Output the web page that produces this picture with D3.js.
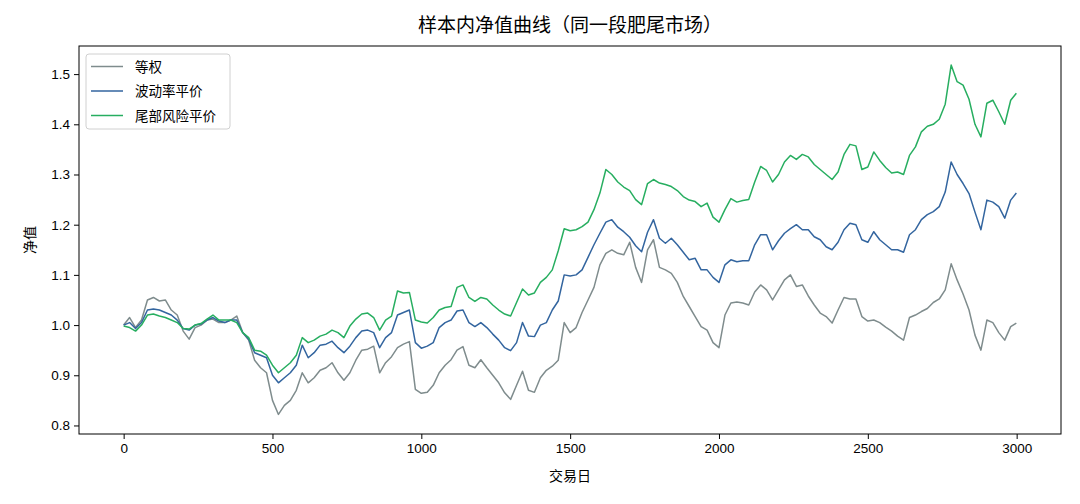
<!DOCTYPE html>
<html>
<head>
<meta charset="utf-8">
<script src="https://cdn.jsdelivr.net/npm/d3@7"></script>
<style>
  body { margin: 0; background: #fff; }
  text { font-family: "Liberation Sans", "Noto Sans CJK SC", sans-serif; }
</style>
</head>
<body>
<div id="chart"></div>
<script>
// sampled every 20 trading days, last point = day 2999
const days = d3.range(0, 3000, 20).concat([2999]);

const equalWeight = [
  1.000, 1.015, 0.995, 1.010, 1.050, 1.055, 1.048, 1.050, 1.030, 1.020,
  0.988, 0.972, 0.995, 1.000, 1.010, 1.012, 1.005, 1.005, 1.010, 1.018,
  0.985, 0.970, 0.930, 0.915, 0.905, 0.850, 0.822, 0.840, 0.850, 0.870,
  0.905, 0.885, 0.895, 0.910, 0.915, 0.925, 0.905, 0.890, 0.905, 0.930,
  0.950, 0.952, 0.958, 0.905, 0.925, 0.937, 0.955, 0.962, 0.967, 0.872,
  0.864, 0.866, 0.880, 0.905, 0.920, 0.931, 0.950, 0.957, 0.920, 0.915,
  0.931, 0.915, 0.900, 0.885, 0.865, 0.852, 0.880, 0.908, 0.870, 0.866,
  0.895, 0.910, 0.918, 0.930, 1.005, 0.985, 0.995, 1.025, 1.050, 1.075,
  1.120, 1.143, 1.150, 1.143, 1.140, 1.165, 1.115, 1.085, 1.150, 1.170,
  1.115, 1.110, 1.103, 1.085, 1.057, 1.037, 1.017, 0.997, 0.990, 0.965,
  0.955, 1.020, 1.044, 1.046, 1.044, 1.040, 1.066, 1.080, 1.070, 1.050,
  1.070, 1.090, 1.100, 1.077, 1.080, 1.058, 1.040, 1.024, 1.017, 1.004,
  1.030, 1.055, 1.052, 1.052, 1.017, 1.008, 1.010, 1.005, 0.996, 0.988,
  0.978, 0.970, 1.015, 1.020, 1.027, 1.033, 1.045, 1.052, 1.070, 1.122,
  1.090, 1.062, 1.030, 0.980, 0.950, 1.010, 1.005, 0.985, 0.970, 0.997,
  1.004
];

const volParity = [
  1.000, 1.005, 0.993, 1.005, 1.030, 1.032, 1.030, 1.025, 1.020, 1.010,
  0.993, 0.990, 1.000, 1.002, 1.010, 1.015, 1.008, 1.005, 1.010, 1.010,
  0.985, 0.972, 0.945, 0.940, 0.935, 0.900, 0.885, 0.895, 0.905, 0.920,
  0.960, 0.935, 0.945, 0.960, 0.962, 0.968, 0.955, 0.945, 0.958, 0.975,
  0.988, 0.990, 0.985, 0.955, 0.975, 0.985, 1.020, 1.025, 1.030, 0.965,
  0.954, 0.958, 0.965, 0.995, 1.005, 1.010, 1.028, 1.030, 1.005, 0.997,
  1.005, 0.995, 0.982, 0.970, 0.955, 0.949, 0.965, 1.005, 0.978, 0.977,
  1.000, 1.005, 1.030, 1.048, 1.100, 1.098, 1.100, 1.110, 1.135, 1.160,
  1.183, 1.205, 1.210, 1.195, 1.186, 1.175, 1.158, 1.146, 1.185, 1.210,
  1.173, 1.163, 1.173, 1.160, 1.145, 1.130, 1.133, 1.110, 1.110, 1.095,
  1.085, 1.120, 1.130, 1.126, 1.128, 1.128, 1.160, 1.180, 1.180, 1.150,
  1.168, 1.183, 1.192, 1.200, 1.190, 1.190, 1.176, 1.170, 1.156, 1.150,
  1.165, 1.190, 1.203, 1.200, 1.170, 1.165, 1.186, 1.170, 1.160, 1.150,
  1.150, 1.145, 1.180, 1.190, 1.210, 1.220, 1.226, 1.236, 1.265, 1.325,
  1.300, 1.282, 1.262, 1.225, 1.190, 1.249, 1.245, 1.236, 1.213, 1.249,
  1.263
];

const tailParity = [
  0.998, 0.995, 0.988, 1.000, 1.020, 1.022, 1.018, 1.015, 1.010, 1.005,
  0.993, 0.992, 1.000, 1.003, 1.012, 1.020, 1.010, 1.010, 1.010, 1.005,
  0.985, 0.975, 0.950, 0.948, 0.940, 0.920, 0.905, 0.915, 0.925, 0.940,
  0.975, 0.965, 0.970, 0.978, 0.982, 0.990, 0.985, 0.975, 0.998, 1.012,
  1.022, 1.024, 1.015, 0.990, 1.010, 1.018, 1.068, 1.064, 1.065, 1.010,
  1.006, 1.004, 1.015, 1.030, 1.035, 1.037, 1.075, 1.080, 1.055, 1.047,
  1.055, 1.052, 1.040, 1.030, 1.022, 1.018, 1.045, 1.072, 1.060, 1.064,
  1.085, 1.095, 1.110, 1.148, 1.192, 1.188, 1.190, 1.196, 1.205, 1.230,
  1.263, 1.310, 1.300, 1.285, 1.275, 1.268, 1.250, 1.240, 1.282, 1.290,
  1.283, 1.280, 1.276, 1.268, 1.256, 1.249, 1.246, 1.236, 1.243, 1.215,
  1.205, 1.230, 1.252, 1.245, 1.248, 1.250, 1.285, 1.316, 1.308, 1.285,
  1.300, 1.325, 1.338, 1.330, 1.340, 1.335, 1.320, 1.310, 1.300, 1.290,
  1.305, 1.340, 1.360, 1.357, 1.310, 1.315, 1.345, 1.328, 1.314, 1.303,
  1.305, 1.300, 1.338, 1.355, 1.385, 1.396, 1.400, 1.410, 1.440, 1.518,
  1.485, 1.478, 1.450, 1.400, 1.375, 1.442, 1.448, 1.425, 1.400, 1.448,
  1.462
];

const seriesNames = ["等权", "波动率平价", "尾部风险平价"];
const xTicks = [0, 500, 1000, 1500, 2000, 2500, 3000];
const yTicks = [0.8, 0.9, 1.0, 1.1, 1.2, 1.3, 1.4, 1.5];

const colors = ["#7f8c8d", "#33659f", "#27ae60"];

const width = 1080, height = 504;
const margin = { top: 46, right: 19, bottom: 70, left: 79 };
const innerW = width - margin.left - margin.right;
const innerH = height - margin.top - margin.bottom;

const svg = d3.select("#chart")
    .append("svg")
    .attr("width", width)
    .attr("height", height);

const g = svg.append("g")
    .attr("transform", `translate(${margin.left},${margin.top})`);

const xScale = d3.scaleLinear()
    .domain([-150, 3149])
    .range([0, innerW]);

const yScale = d3.scaleLinear()
    .domain([0.783, 1.556])
    .range([innerH, 0]);

const xAxis = d3.axisBottom(xScale)
    .tickValues(xTicks)
    .tickFormat(d3.format("d"))
    .tickSize(5)
    .tickPadding(4);

const yAxis = d3.axisLeft(yScale)
    .tickValues(yTicks)
    .tickFormat(d3.format(".1f"))
    .tickSize(5)
    .tickPadding(4);

const gx = g.append("g")
    .attr("transform", `translate(0,${innerH})`)
    .call(xAxis);
const gy = g.append("g").call(yAxis);

[gx, gy].forEach(a => {
    a.select(".domain").remove();
    a.selectAll("text").attr("fill", "#000").style("font-size", "13.5px");
    a.selectAll("line").attr("stroke", "#000");
});

const line = d3.line()
    .x((d, i) => xScale(days[i]))
    .y(d => yScale(d));

const clip = g.append("clipPath").attr("id", "clip")
    .append("rect").attr("width", innerW).attr("height", innerH);

[equalWeight, volParity, tailParity].forEach((vals, k) => {
    g.append("path")
        .datum(vals)
        .attr("clip-path", "url(#clip)")
        .attr("fill", "none")
        .attr("stroke", colors[k])
        .attr("stroke-width", 1.5)
        .attr("stroke-linejoin", "round")
        .attr("d", line);
});

// frame
g.append("rect")
    .attr("width", innerW)
    .attr("height", innerH)
    .attr("fill", "none")
    .attr("stroke", "#000")
    .attr("stroke-width", 1);

// title and axis labels
svg.append("text")
    .attr("x", margin.left + innerW / 2)
    .attr("y", 32)
    .attr("text-anchor", "middle")
    .style("font-size", "19px")
    .text("样本内净值曲线（同一段肥尾市场）");

svg.append("text")
    .attr("x", margin.left + innerW / 2)
    .attr("y", 481)
    .attr("text-anchor", "middle")
    .style("font-size", "14px")
    .text("交易日");

svg.append("text")
    .attr("transform", `translate(35,${margin.top + innerH / 2}) rotate(-90)`)
    .attr("text-anchor", "middle")
    .style("font-size", "14px")
    .text("净值");

// legend
const legend = g.append("g").attr("transform", "translate(7,8)");
legend.append("rect")
    .attr("width", 144)
    .attr("height", 75)
    .attr("rx", 3)
    .attr("fill", "#fff")
    .attr("fill-opacity", 0.8)
    .attr("stroke", "#d0d0d0");

seriesNames.forEach((name, i) => {
    const yy = 12.5 + i * 24.5;
    legend.append("line")
        .attr("x1", 5).attr("x2", 37)
        .attr("y1", yy).attr("y2", yy)
        .attr("stroke", colors[i])
        .attr("stroke-width", 1.5);
    legend.append("text")
        .attr("x", 49)
        .attr("y", yy + 5)
        .style("font-size", "13.5px")
        .text(name);
});
</script>
</body>
</html>
